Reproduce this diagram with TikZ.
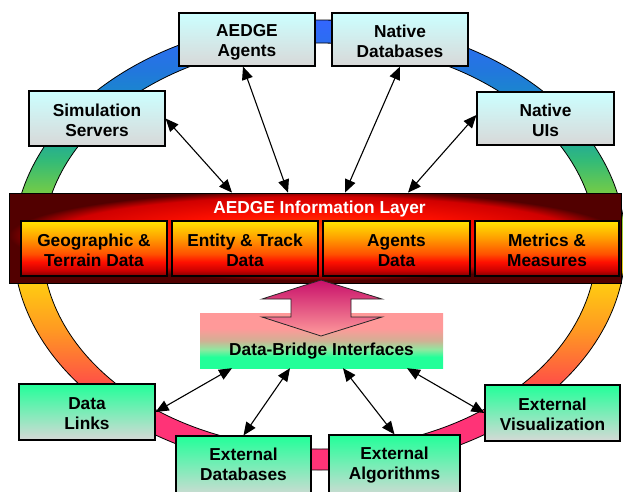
\documentclass[tikz,border=0pt]{standalone}
\usepackage{fontspec}
\setmainfont{Liberation Sans}
\usetikzlibrary{arrows.meta}

% ring colours
\definecolor{rblueA}{HTML}{3366FF}
\definecolor{rblueB}{HTML}{2277DD}
\definecolor{rteal}{HTML}{1199BB}
\definecolor{rgreenA}{HTML}{33BB77}
\definecolor{rgreenB}{HTML}{77CC44}
\definecolor{ryellow}{HTML}{FFCC11}
\definecolor{rorange}{HTML}{FF9922}
\definecolor{rred}{HTML}{FF5544}
\definecolor{rpink}{HTML}{FF3377}
% layer colours
\definecolor{lA}{HTML}{FF5000}
\definecolor{lB}{HTML}{FF1000}
\definecolor{lC}{HTML}{D00000}
\definecolor{lC2}{HTML}{8A0000}
\definecolor{lD}{HTML}{520000}
% info box colours
\definecolor{bY}{HTML}{FFE600}
\definecolor{bO}{HTML}{FFA000}
\definecolor{bO2}{HTML}{FF5000}
\definecolor{bR}{HTML}{FF1000}
\definecolor{bR2}{HTML}{CC0000}
\definecolor{bD}{HTML}{800000}
% boxes
\definecolor{tcTop}{HTML}{CCFFFF}
\definecolor{tcBot}{HTML}{D8D8D8}
\definecolor{gcTop}{HTML}{22FF99}
\definecolor{gcMid}{HTML}{9CEDBF}
\definecolor{gcBot}{HTML}{D6D9D6}
\definecolor{daTop}{HTML}{C8106A}
\definecolor{daBot}{HTML}{FF9C9C}
\definecolor{bgG}{HTML}{22FF99}
\definecolor{bgG2}{HTML}{90E8A0}
\definecolor{bgM}{HTML}{D2B094}
\definecolor{bgP}{HTML}{FF9999}

\pgfdeclareverticalshading{ringshade}{100bp}{color(0bp)=(rpink); color(30.6bp)=(rpink); color(35bp)=(rred); color(40.6bp)=(rorange); color(45.8bp)=(ryellow); color(55.6bp)=(rgreenB); color(59.4bp)=(rgreenA); color(63.9bp)=(rteal); color(69.4bp)=(rblueB); color(75bp)=(rblueA); color(100bp)=(rblueA)}
\pgfdeclareradialshading{layershade}{\pgfpoint{0bp}{3bp}}{color(0bp)=(lA); color(12bp)=(lB); color(21.5bp)=(lC); color(23.5bp)=(lC2); color(25bp)=(lD); color(50bp)=(lD)}
\pgfdeclareverticalshading{infoshade}{100bp}{color(0bp)=(bD); color(25bp)=(bD); color(30bp)=(bR2); color(38bp)=(bR); color(45bp)=(bO2); color(60bp)=(bO); color(75bp)=(bY); color(100bp)=(bY)}
\pgfdeclareverticalshading{bridgeshade}{100bp}{color(0bp)=(bgG); color(35bp)=(bgG); color(42bp)=(bgG2); color(50bp)=(bgM); color(61bp)=(bgP); color(100bp)=(bgP)}

\newcommand\labfont{\fontsize{17.3}{20}\selectfont\bfseries}
\newcommand\twoline[2]{\rule{0pt}{18.5pt}#1\\#2\rule[-3.5pt]{0pt}{0pt}}
\newcommand\twolinelow[2]{\rule{0pt}{18.5pt}#1\\#2\rule[-12pt]{0pt}{0pt}}

\tikzset{
  topbox/.style={draw=black, line width=1.2pt, top color=tcTop, bottom color=tcBot,
    minimum width=136pt, minimum height=53pt, inner sep=0pt, align=center, font=\labfont},
  botbox/.style={draw=black, line width=1.2pt, top color=gcTop, middle color=gcMid, bottom color=gcBot,
    minimum width=136pt, minimum height=56pt, inner sep=0pt, align=center, font=\labfont},
  infobox/.style={draw=black, line width=1.2pt, shade, shading=infoshade,
    minimum height=55pt, inner sep=0pt, align=center, font=\labfont},
  layerbox/.style={draw=black, line width=0.8pt, shade, shading=layershade,
    minimum width=612pt, minimum height=90pt, inner sep=0pt},
  bridgebox/.style={shade, shading=bridgeshade, minimum width=243pt, minimum height=55pt,
    inner sep=0pt, font=\labfont},
  link/.style={draw=black, line width=1.1pt,
    {Triangle[length=13pt,width=11pt]}-{Triangle[length=13pt,width=11pt]}}
}

\begin{document}
\begin{tikzpicture}[x=1pt,y=-1pt]
\useasboundingbox (0,0) rectangle (623,491);

% ring
\path[shade, shading=ringshade, draw=black, line width=0.8pt, even odd rule]
  (319.5,245) ellipse [x radius=306, y radius=225]
  (319.5,246) ellipse [x radius=277, y radius=203];

% top boxes
\node[topbox] (agents) at (247,39.5) {\twoline{AEDGE}{Agents}};
\node[topbox] (natdb) at (400,39.5) {\twoline{Native}{Databases}};
\node[topbox, minimum height=55pt] (sim) at (97,118.5) {\twoline{Simulation}{Servers}};
\node[topbox, minimum width=137pt] (natui) at (545.5,118.5) {\twoline{Native}{UIs}};

% information layer
\node[layerbox] (layer) at (315,238) {};
\node[font=\labfont, text=white, anchor=base, inner sep=0pt] (title) at (319.5,213) {AEDGE Information Layer};
\node[infobox, minimum width=146pt] (geo) at (94,248.5) {\twoline{Geographic \&}{Terrain Data}};
\node[infobox, minimum width=146pt] (ent) at (245,248.5) {\twoline{Entity \& Track}{Data}};
\node[infobox, minimum width=147pt] (agd) at (396.5,248.5) {\twoline{Agents}{Data}};
\node[infobox, minimum width=144pt] (met) at (547,248.5) {\twoline{Metrics \&}{Measures}};

% data bridge
\node[bridgebox] (bridge) at (321.5,340.5) {\rule[-3.5pt]{0pt}{36.5pt}Data-Bridge Interfaces};

% block double arrow
\path[shade, top color=daTop, bottom color=daBot, draw=black!85, line width=0.8pt]
  (321,280) -- (382,299) -- (351,299) -- (351,317) -- (382,317) -- (321,336)
  -- (262,317) -- (291,317) -- (291,299) -- (262,299) -- cycle;

% bottom boxes
\node[botbox] (links) at (87,412) {\twoline{Data}{Links}};
\node[botbox, minimum width=135pt] (extvis) at (552.5,413) {\twoline{External}{Visualization}};
\node[botbox, minimum width=135pt, minimum height=62pt] (extdb) at (243.5,467) {\twolinelow{External}{Databases}};
\node[botbox, minimum width=131pt, minimum height=63pt] (extalg) at (394.5,466.5) {\twolinelow{External}{Algorithms}};

% connectors
\draw[link] (sim.east) -- ([xshift=-83pt]layer.north);
\draw[link] ([xshift=-4pt]agents.south) -- ([xshift=-27pt]layer.north);
\draw[link] (natdb.south) -- ([xshift=30pt]layer.north);
\draw[link] ([yshift=3.5pt]natui.west) -- ([xshift=93pt]layer.north);
\draw[link] ([xshift=-89.5pt]bridge.south) -- (links.east);
\draw[link] ([xshift=-31.5pt]bridge.south) -- (extdb.north);
\draw[link] ([xshift=21.5pt]bridge.south) -- (extalg.north);
\draw[link] ([xshift=85.5pt]bridge.south) -- (extvis.west);
\end{tikzpicture}
\end{document}
